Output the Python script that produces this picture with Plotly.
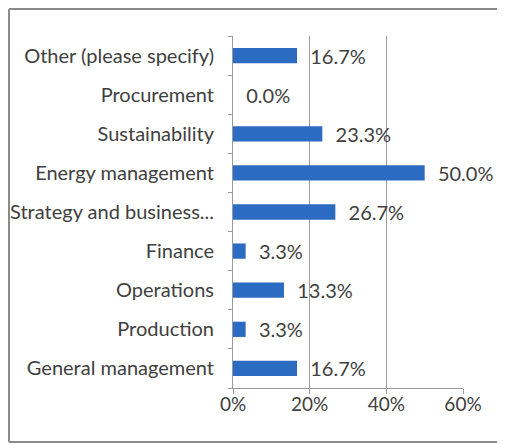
import plotly.graph_objects as go

categories = ["General management", "Production", "Operations", "Finance",
              "Strategy and business...", "Energy management", "Sustainability",
              "Procurement", "Other (please specify)"]
values = [16.7, 3.3, 13.3, 3.3, 26.7, 50.0, 23.3, 0.0, 16.7]
x_ticks = [0, 20, 40, 60]
x_tick_labels = ["0%", "20%", "40%", "60%"]

FONT = "Lato"
TXT = "#404040"

# page body has an 8px margin, so the figure is sized to fill the rest of the window
W, H = 497, 436
L, R, T, B = 225, 42, 28, 56
pw, ph = W - L - R, H - T - B

fig = go.Figure(go.Bar(
    y=categories, x=values, orientation="h",
    marker=dict(color="#2C6BC2", line=dict(width=0)),
    width=0.39,
    text=[f"\u00a0\u00a0{v:.1f}%" for v in values],
    textposition="outside", constraintext="none", cliponaxis=False,
    textfont=dict(family=FONT, size=20, color=TXT),
))

# outer chart frame (left, top and bottom edges; right edge lies outside the window)
fx0, fx1 = (1 - L) / pw, (W + 20 - L) / pw
fy0, fy1 = (H - B - 434) / ph, (H - B - 1) / ph
frame = dict(color="#8a8a8a", width=2)
shapes = [
    dict(type="line", xref="paper", yref="paper", x0=fx0, x1=fx0, y0=fy0, y1=fy1, line=frame, layer="below"),
    dict(type="line", xref="paper", yref="paper", x0=fx0, x1=fx1, y0=fy1, y1=fy1, line=frame, layer="below"),
    dict(type="line", xref="paper", yref="paper", x0=fx0, x1=fx1, y0=fy0, y1=fy0, line=frame, layer="below"),
]

fig.update_layout(
    width=W, height=H,
    margin=dict(l=L, r=R, t=T, b=B),
    paper_bgcolor="white", plot_bgcolor="white",
    showlegend=False,
    font=dict(family=FONT, size=20, color=TXT),
    xaxis=dict(range=[0, 60], tickvals=x_ticks, ticktext=x_tick_labels,
               tickfont=dict(size=19), automargin=False,
               showgrid=True, gridcolor="#9a9a9a", gridwidth=1,
               showline=True, linecolor="#9a9a9a", ticks="outside", ticklen=5,
               tickcolor="#9a9a9a", zeroline=False, fixedrange=True,
               ticklabelstandoff=-6),
    yaxis=dict(categoryorder="array", categoryarray=categories, automargin=False,
               showline=True, linecolor="#9a9a9a", ticks="outside", ticklen=4,
               tickcolor="#9a9a9a", tickson="boundaries", showgrid=False,
               ticklabelstandoff=14),
    shapes=shapes,
)

fig.write_html("out.html")
